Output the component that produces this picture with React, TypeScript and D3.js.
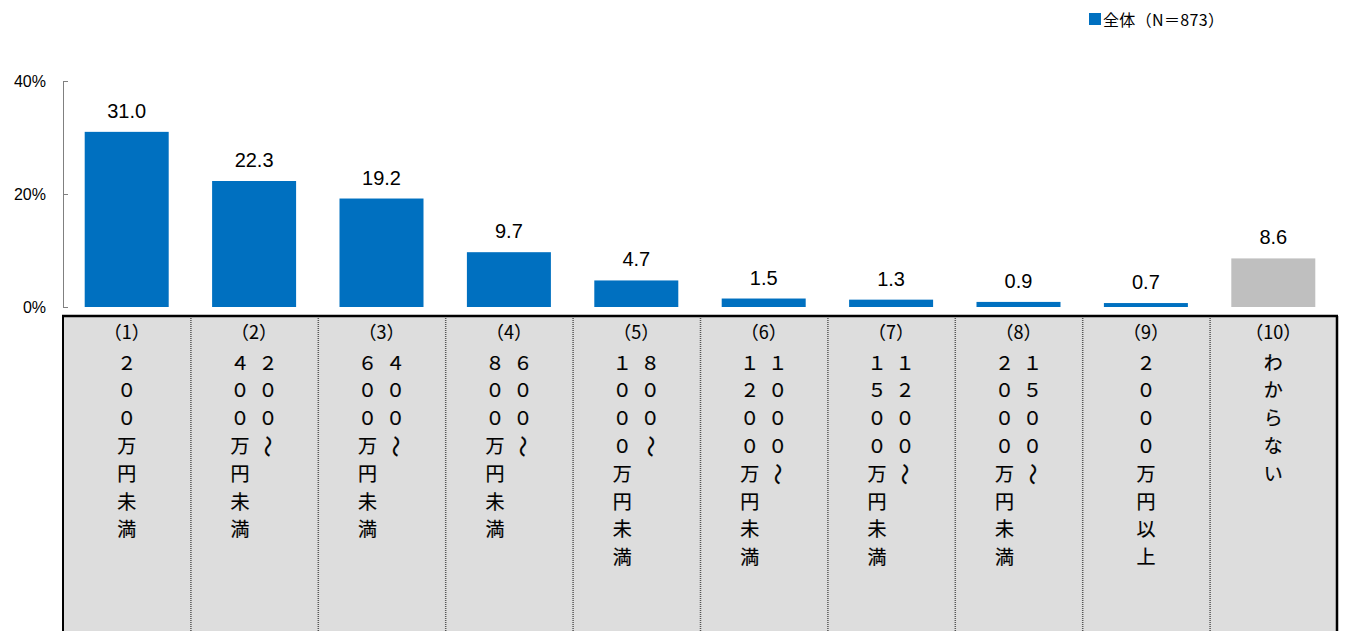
import React, { useEffect, useRef } from 'react';
import * as d3 from 'd3';

// category headers, values and vertical label columns (right column first)
const headers = ['（1）', '（2）', '（3）', '（4）', '（5）', '（6）', '（7）', '（8）', '（9）', '（10）'];
const values = [31.0, 22.3, 19.2, 9.7, 4.7, 1.5, 1.3, 0.9, 0.7, 8.6];
const labelCols = [
  ['２００万円未満'],
  ['２００～', '４００万円未満'],
  ['４００～', '６００万円未満'],
  ['６００～', '８００万円未満'],
  ['８００～', '１０００万円未満'],
  ['１０００～', '１２００万円未満'],
  ['１２００～', '１５００万円未満'],
  ['１５００～', '２０００万円未満'],
  ['２０００万円以上'],
  ['わからない'],
];
const yTicks = [0, 20, 40];
const legendLabel = '全体（N＝873）';

const W = 1346;
const H = 631;
const BLUE = '#0070C0';
const GRAY = '#BFBFBF';
const JP = '"Noto Sans CJK JP", "Noto Sans", sans-serif';
const LAT = '"Liberation Sans", Arial, sans-serif';

const App: React.FC = () => {
  const ref = useRef<SVGSVGElement>(null);

  useEffect(() => {
    const svg = d3.select(ref.current);
    svg.selectAll('*').remove();

    const x = d3.scaleBand<number>()
      .domain(d3.range(values.length))
      .range([63, 1337])
      .paddingInner(0)
      .paddingOuter(0);
    const y = d3.scaleLinear().domain([0, 40]).range([307, 81]);
    const bw = 84;

    // legend
    const lg = svg.append('g');
    lg.append('rect').attr('x', 1089).attr('y', 13).attr('width', 12).attr('height', 12).attr('fill', BLUE);
    lg.append('text').attr('x', 1103).attr('y', 25.5).attr('font-family', JP).attr('font-size', 16)
      .attr('fill', '#000').attr('textLength', 121).text(legendLabel);

    // y axis
    const ax = svg.append('g');
    ax.append('line').attr('x1', 63.5).attr('x2', 63.5).attr('y1', y(40)).attr('y2', y(0))
      .attr('stroke', '#808080').attr('stroke-width', 1);
    ax.selectAll('.tick').data(yTicks).enter().append('line')
      .attr('x1', 63).attr('x2', 68).attr('y1', (d) => y(d) + 0.5).attr('y2', (d) => y(d) + 0.5)
      .attr('stroke', '#808080');
    ax.selectAll('.tl').data(yTicks).enter().append('text')
      .attr('x', 46).attr('y', (d) => y(d) + 6).attr('text-anchor', 'end')
      .attr('font-family', LAT).attr('font-size', 16).attr('fill', '#000')
      .text((d) => `${d}%`);

    // bars
    svg.selectAll('.bar').data(values).enter().append('rect')
      .attr('x', (_, i) => (x(i) ?? 0) + (x.bandwidth() - bw) / 2)
      .attr('y', (d) => y(d))
      .attr('width', bw)
      .attr('height', (d) => y(0) - y(d))
      .attr('fill', (_, i) => (i === values.length - 1 ? GRAY : BLUE));

    svg.selectAll('.val').data(values).enter().append('text')
      .attr('x', (_, i) => (x(i) ?? 0) + x.bandwidth() / 2)
      .attr('y', (d) => y(d) - 14)
      .attr('text-anchor', 'middle')
      .attr('font-family', LAT).attr('font-size', 20).attr('fill', '#000')
      .text((d) => d.toFixed(1));

    // table below
    const t0 = 316;
    svg.append('rect').attr('x', 63).attr('y', t0).attr('width', 1274).attr('height', H - t0 + 10)
      .attr('fill', '#DDDDDD');
    svg.selectAll('.div').data(d3.range(1, values.length)).enter().append('line')
      .attr('x1', (i) => (x(i) ?? 0) + 0.5).attr('x2', (i) => (x(i) ?? 0) + 0.5)
      .attr('y1', t0).attr('y2', H)
      .attr('stroke', '#555').attr('stroke-width', 1.5).attr('stroke-dasharray', '1,1');
    svg.append('line').attr('x1', 62).attr('x2', 1338).attr('y1', t0).attr('y2', t0)
      .attr('stroke', '#000').attr('stroke-width', 2.5);
    svg.append('line').attr('x1', 63).attr('x2', 63).attr('y1', t0).attr('y2', H)
      .attr('stroke', '#000').attr('stroke-width', 2);
    svg.append('line').attr('x1', 1337).attr('x2', 1337).attr('y1', t0).attr('y2', H)
      .attr('stroke', '#000').attr('stroke-width', 2.5);

    const step = 27.8;
    headers.forEach((h, i) => {
      const cx = (x(i) ?? 0) + x.bandwidth() / 2;
      const g = svg.append('g').attr('font-family', JP).attr('font-size', 19).attr('fill', '#000')
        .attr('stroke', '#000').attr('stroke-width', 0.2);
      g.append('text').attr('x', cx).attr('y', 333).attr('dy', '0.35em')
        .attr('text-anchor', 'middle').attr('font-size', 18).attr('stroke-width', 0.1).text(h);
      const cols = labelCols[i];
      cols.forEach((col, c) => {
        const colX = cols.length === 1 ? cx : cx + (c === 0 ? 14 : -14);
        Array.from(col).forEach((ch, k) => {
          const cy = 363 + k * step;
          const txt = g.append('text').attr('x', colX).attr('y', cy).attr('dy', '0.35em')
            .attr('text-anchor', 'middle').text(ch);
          if (ch === '～') {
            txt.attr('transform', `rotate(90, ${colX}, ${cy}) scale(1.15, 1.15)`)
              .attr('x', colX / 1.15).attr('y', cy / 1.15);
          }
        });
      });
    });
  }, []);

  return (
    <svg ref={ref} width={W} height={H}
      style={{ position: 'absolute', left: 0, top: 0, background: '#fff' }} />
  );
};

export default App;
